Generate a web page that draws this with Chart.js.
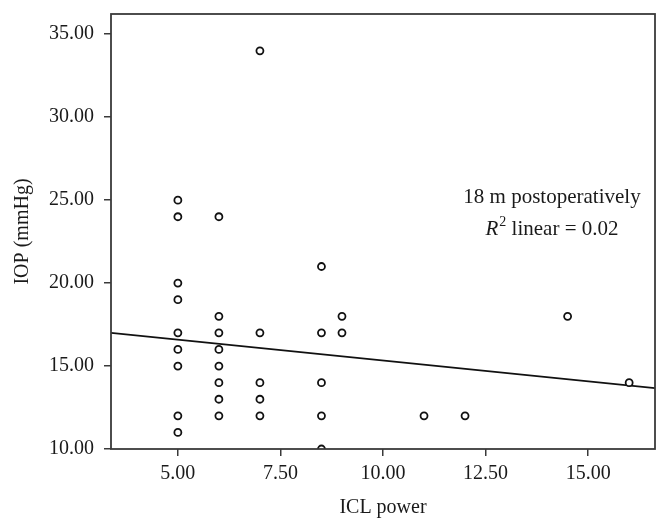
<!DOCTYPE html>
<html>
<head>
<meta charset="utf-8">
<script src="https://cdn.jsdelivr.net/npm/chart.js@4/dist/chart.umd.min.js"></script>
<style>
body { margin: 0; background: #fff; }
</style>
</head>
<body>
<canvas id="graph" width="669" height="532"></canvas>
<script>
// ICL power vs IOP, 18 months postoperatively
var iclPower = [5, 5, 5, 5, 5, 5, 5, 5, 5,
    6, 6, 6, 6, 6, 6, 6, 6,
    7, 7, 7, 7, 7,
    8.5, 8.5, 8.5, 8.5, 8.5,
    9, 9,
    11, 12, 14.5, 16];
var iop = [25, 24, 20, 19, 17, 16, 15, 12, 11,
    24, 18, 17, 16, 15, 14, 13, 12,
    34, 17, 14, 13, 12,
    21, 17, 14, 12, 10,
    18, 17,
    12, 12, 18, 14];

// fit line end points
var fitX = [3.37, 16.63];
var fitY = [17.0, 13.67];

var xTicks = [5, 7.5, 10, 12.5, 15];
var yTicks = [10, 15, 20, 25, 30, 35];

var serif = '"Liberation Serif", "Times New Roman", serif';

function showScatter()
{
    var points = [];
    for (var i in iclPower) {
        points.push({x: iclPower[i], y: iop[i]});
    }
    var line = [];
    for (var j in fitX) {
        line.push({x: fitX[j], y: fitY[j]});
    }

    var framePlugin = {
        id: 'frame',
        afterDatasetsDraw: function (chart) {
            var a = chart.chartArea;
            var ctx = chart.ctx;
            ctx.save();
            ctx.strokeStyle = '#3a3a3a';
            ctx.lineWidth = 1.8;
            ctx.strokeRect(a.left, a.top, a.right - a.left, a.bottom - a.top);
            ctx.restore();
        },
        afterDraw: function (chart) {
            var ctx = chart.ctx;
            var cx = 552;
            ctx.save();
            ctx.fillStyle = '#1a1a1a';
            ctx.textBaseline = 'alphabetic';
            ctx.font = '21px ' + serif;
            ctx.textAlign = 'center';
            ctx.fillText('18 m postoperatively', cx, 203);

            // R^2 linear = 0.02
            ctx.textAlign = 'left';
            var italic = 'italic 21px ' + serif;
            var sup = '14px ' + serif;
            var norm = '21px ' + serif;
            ctx.font = italic;
            var wR = ctx.measureText('R').width;
            ctx.font = sup;
            var w2 = ctx.measureText('2').width;
            ctx.font = norm;
            var rest = ' linear = 0.02';
            var wRest = ctx.measureText(rest).width;
            var x0 = cx - (wR + w2 + 1 + wRest) / 2;
            ctx.font = italic;
            ctx.fillText('R', x0, 235);
            ctx.font = sup;
            ctx.fillText('2', x0 + wR + 1, 226);
            ctx.font = norm;
            ctx.fillText(rest, x0 + wR + w2 + 1, 235);
            ctx.restore();
        }
    };

    var graphTarget = document.getElementById('graph');
    var scatter = new Chart(graphTarget, {
        type: 'scatter',
        data: {
            datasets: [
                {
                    label: 'IOP',
                    data: points,
                    pointRadius: 3.5,
                    pointHoverRadius: 3.5,
                    pointBorderWidth: 1.8,
                    borderColor: '#111',
                    backgroundColor: '#fff',
                    clip: 0
                }, {
                    type: 'line',
                    label: 'fit',
                    data: line,
                    borderColor: '#111',
                    borderWidth: 1.6,
                    pointRadius: 0,
                    fill: false
                }
            ]
        },
        options: {
            responsive: false,
            animation: false,
            layout: { padding: { left: 0, top: 14, right: 14, bottom: 0 } },
            plugins: {
                legend: { display: false },
                tooltip: { enabled: false }
            },
            scales: {
                x: {
                    type: 'linear',
                    min: 3.37,
                    max: 16.63,
                    afterFit: function (s) {
                        s.height = 83;
                        s.paddingLeft = 0;
                        s.paddingRight = 0;
                    },
                    afterBuildTicks: function (s) {
                        s.ticks = xTicks.map(function (v) { return {value: v}; });
                    },
                    border: { display: false },
                    grid: {
                        drawOnChartArea: false,
                        tickLength: 7,
                        color: '#3a3a3a',
                        lineWidth: 1.5
                    },
                    ticks: {
                        padding: 6,
                        color: '#1a1a1a',
                        font: { family: serif, size: 20 },
                        maxRotation: 0,
                        callback: function (v) { return v.toFixed(2); }
                    },
                    title: {
                        display: true,
                        text: 'ICL power',
                        color: '#1a1a1a',
                        font: { family: serif, size: 20 },
                        padding: { top: 0, bottom: 12 }
                    }
                },
                y: {
                    type: 'linear',
                    min: 10,
                    max: 36.22,
                    afterFit: function (s) {
                        s.width = 111;
                        s.paddingTop = 0;
                        s.paddingBottom = 0;
                    },
                    afterBuildTicks: function (s) {
                        s.ticks = yTicks.map(function (v) { return {value: v}; });
                    },
                    border: { display: false },
                    grid: {
                        drawOnChartArea: false,
                        tickLength: 7,
                        color: '#3a3a3a',
                        lineWidth: 1.5
                    },
                    ticks: {
                        padding: 10,
                        color: '#1a1a1a',
                        font: { family: serif, size: 20 },
                        callback: function (v) { return v.toFixed(2); }
                    },
                    title: {
                        display: true,
                        text: 'IOP (mmHg)',
                        color: '#1a1a1a',
                        font: { family: serif, size: 20 },
                        padding: { top: 11, bottom: 0 }
                    }
                }
            }
        },
        plugins: [framePlugin]
    });
}

showScatter();
</script>
</body>
</html>
